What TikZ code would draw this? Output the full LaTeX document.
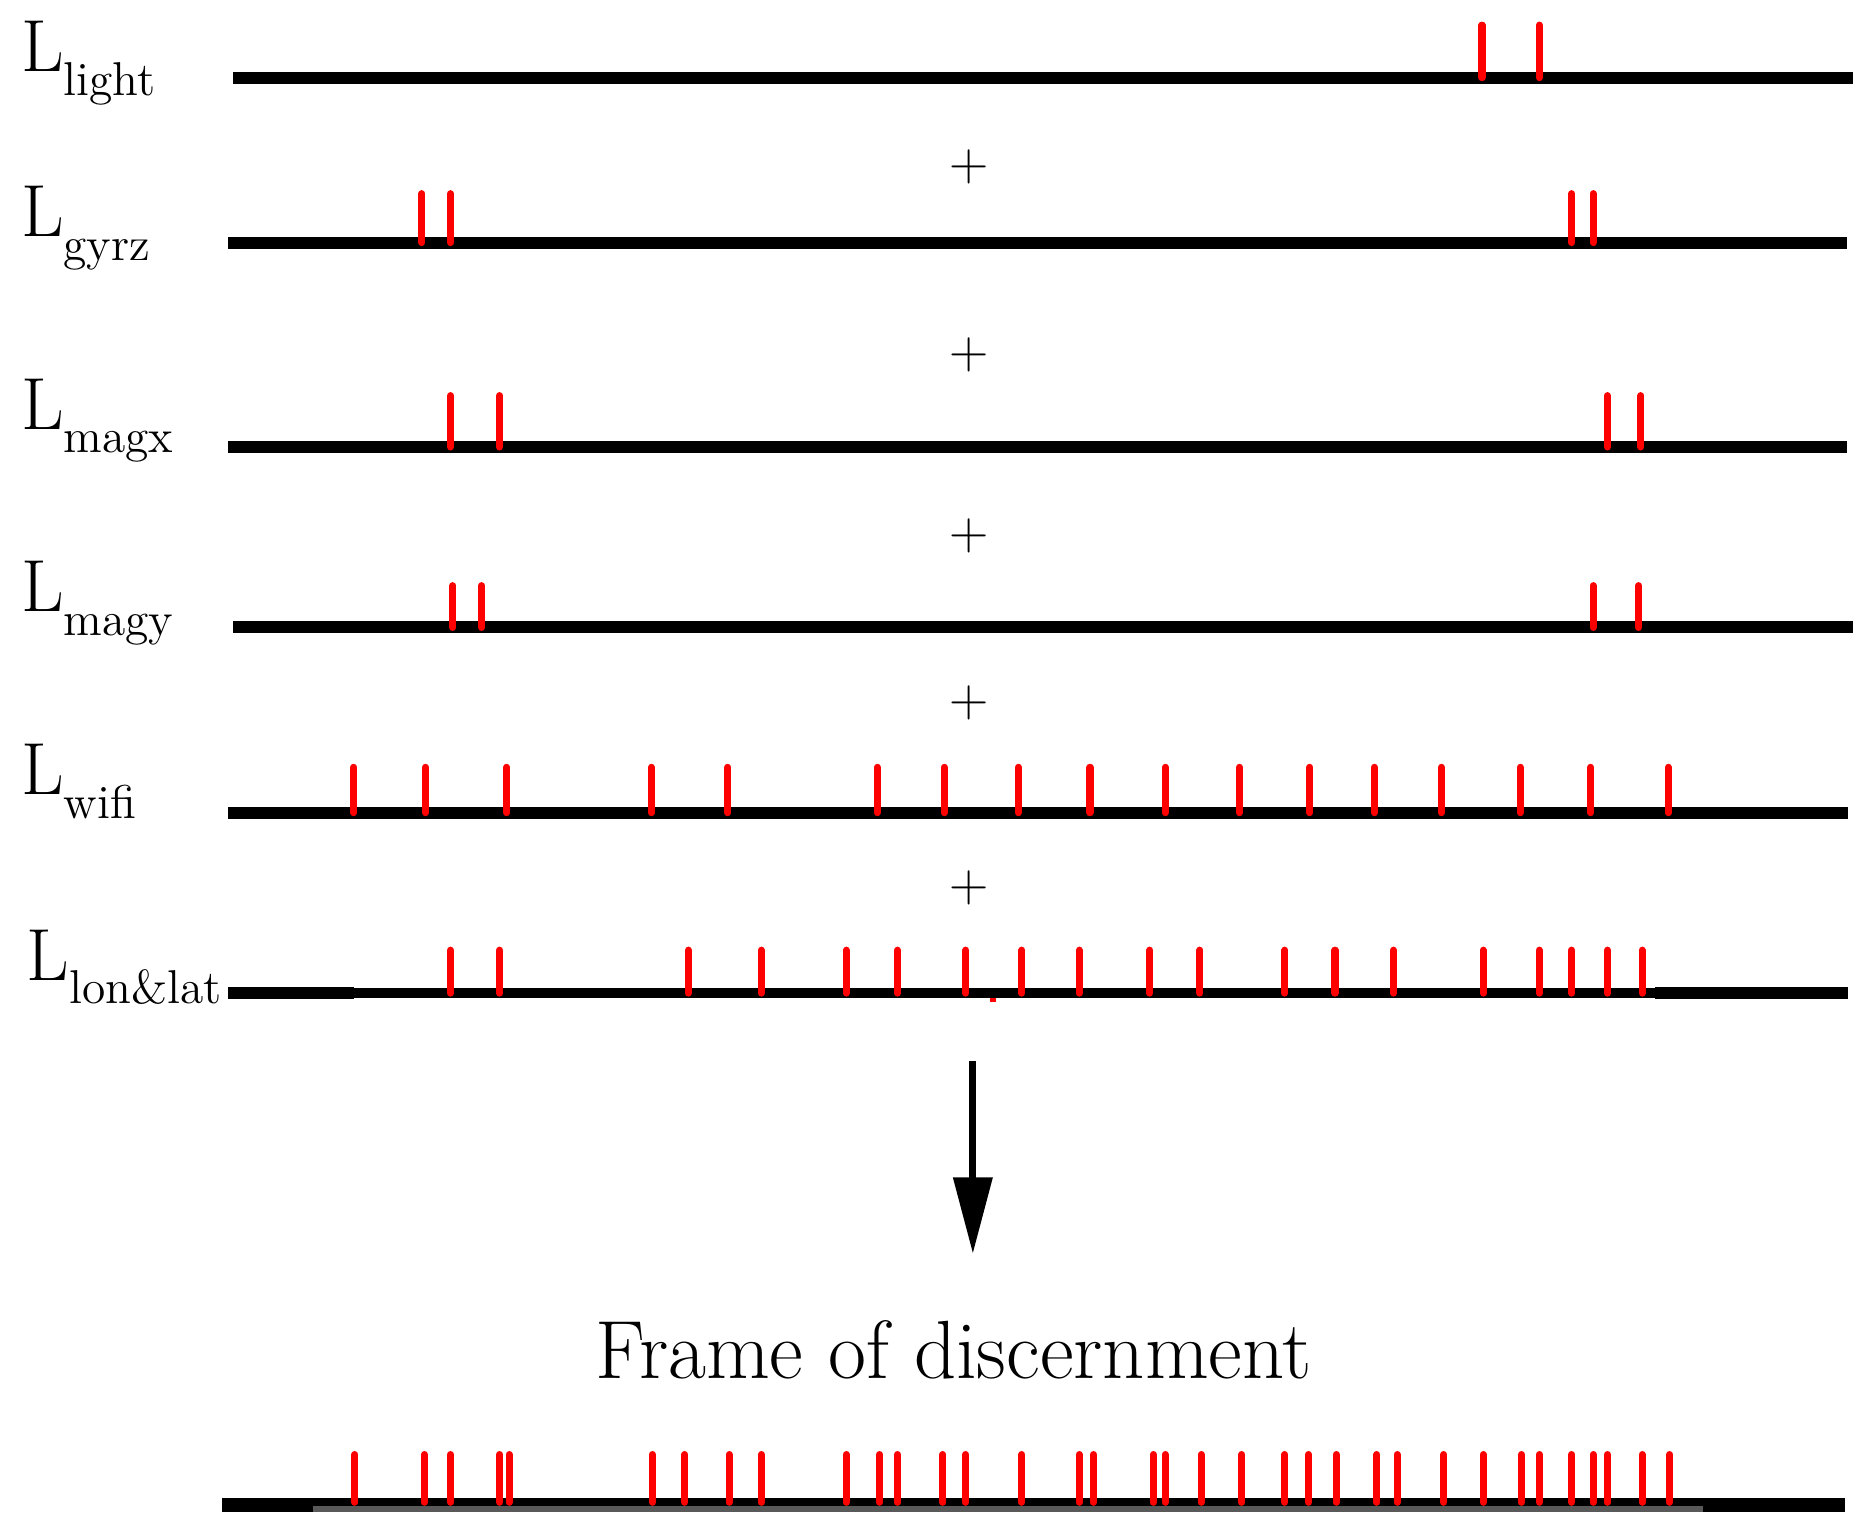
\documentclass[tikz,border=0pt]{standalone}
\usepackage{tikz}
\usetikzlibrary{arrows.meta, positioning}
\tikzset{
    axis/.style={line width=3.4pt, black},
    evt/.style={red, line width=2pt, line cap=round},
    plus/.style={font=\fontsize{15.5}{16}\selectfont, inner sep=0pt},
    lab/.style={anchor=base west, inner sep=0pt},
    arrow/.style={-{Triangle[length=21.7pt, width=10.8pt]}, line width=2pt}
}
\newcommand{\Lsub}[1]{{\fontsize{21}{25}\selectfont L}\raisebox{-6.8pt}{\fontsize{13.5}{15}\selectfont #1}}

\begin{document}
\begin{tikzpicture}[x=0.01195cm, y=-0.01195cm]
    \useasboundingbox (0,0) rectangle (1568,1288);

    % Light
    \node[lab] (llight) at (17,60) {\Lsub{light}};
    \draw[axis] (195,65) -- (1550,65);
    \foreach \t in {1240,1288} \draw[evt] (\t,21) -- (\t,65);

    % Gyroscope z
    \node[lab] (lgyrz) at (17,198) {\Lsub{gyrz}};
    \draw[axis] (191,203) -- (1545,203);
    \foreach \t in {353,377,1315,1333} \draw[evt] (\t,162) -- (\t,203);

    % Magnetometer x
    \node[lab] (lmagx) at (17,359) {\Lsub{magx}};
    \draw[axis] (191,374) -- (1545,374);
    \foreach \t in {377,418,1345,1373} \draw[evt] (\t,331) -- (\t,374);

    % Magnetometer y
    \node[lab] (lmagy) at (17,512) {\Lsub{magy}};
    \draw[axis] (195,525) -- (1550,525);
    \foreach \t in {379,403,1333,1371} \draw[evt] (\t,490) -- (\t,525);

    % Wifi
    \node[lab] (lwifi) at (17,665) {\Lsub{wifi}};
    \draw[axis] (191,680) -- (1546,680);
    \foreach \t in {296,356,424,545,609,734,790,852,912,975,1037,1096,1150,1206,1272,1331,1396}
        \draw[evt] (\t,642) -- (\t,680);

    % Longitude & latitude
    \node[lab] (llonlat) at (22,820) {\Lsub{lon\&lat}};
    \draw[axis] (191,831) -- (296,831);
    \draw[axis, line width=2.9pt] (296,831) -- (1385,831);
    \draw[axis] (1385,831) -- (1546,831);
    \foreach \t in {377,418,576,637,708,751,808,855,903,962,1004,1075,1117,1166,1241,1288,1315,1345,1374}
        \draw[evt] (\t,795) -- (\t,831);
    \fill[red] (828,835) rectangle (833,838);

    % Plus signs
    \foreach \y [count=\i] in {140,297,448,588,743}
        \node[plus] (plus\i) at (811,\y) {+};

    % Fusion arrow
    \coordinate (arrtop) at (814,888);
    \coordinate (arrtip) at (814,1049);
    \draw[arrow] (arrtop) -- (arrtip);

    \node[anchor=base, inner sep=0pt, font=\fontsize{23.5}{27}\selectfont] (frame) at (798,1153) {Frame of discernment};

    % Frame of discernment line
    \draw[line width=4pt] (186,1259) -- (1544,1259);
    \draw[black!65, line width=1.7pt] (262,1263) -- (1425,1263);
    \foreach \t in {297,355,377,418,426,546,573,610,637,708,736,751,789,808,855,903,915,965,975,1005,1039,1075,1095,1118,1152,1169,1208,1241,1273,1288,1315,1333,1345,1374,1397}
        \draw[evt] (\t,1217) -- (\t,1257);
\end{tikzpicture}
\end{document}
